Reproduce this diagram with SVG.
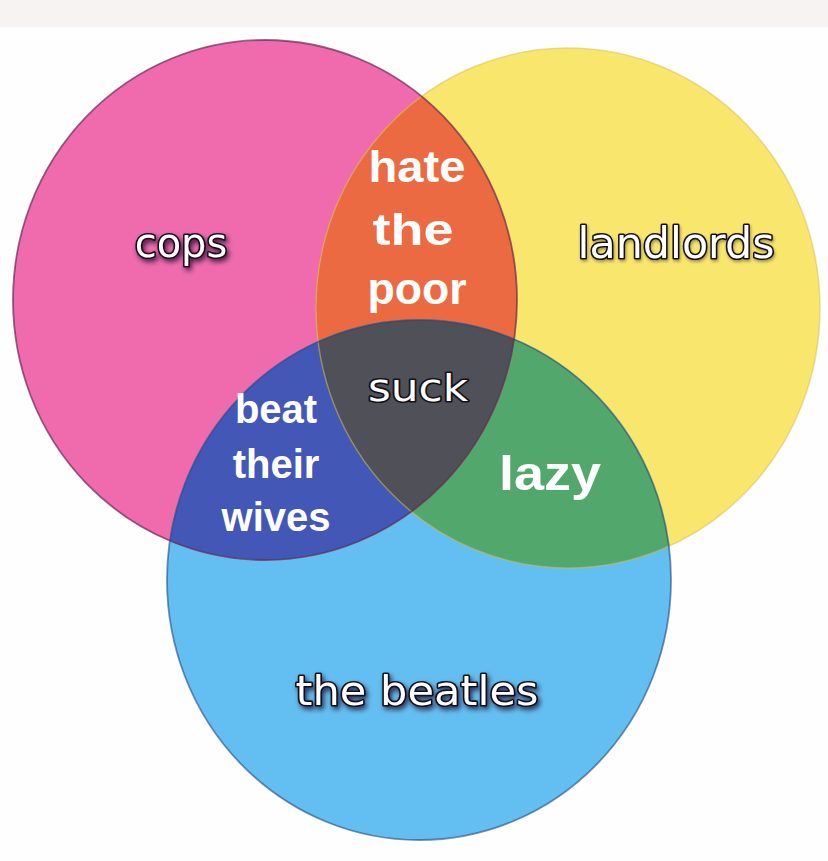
<svg xmlns="http://www.w3.org/2000/svg" width="828" height="861" viewBox="0 0 828 861">
<defs>
<style>
.comic{font-family:"DejaVu Sans","Liberation Sans",sans-serif;fill:#ffffff;stroke:#141018;stroke-width:3.2;paint-order:stroke;stroke-linejoin:round;text-anchor:middle}
.bold{font-family:"Liberation Sans",Arial,sans-serif;font-weight:bold;fill:#ffffff;text-anchor:middle}
</style>
<clipPath id="cY"><ellipse cx="568" cy="308" rx="252" ry="260"/></clipPath>
<clipPath id="cB"><ellipse cx="419" cy="580" rx="252" ry="260"/></clipPath>
<filter id="sh" x="-20%" y="-50%" width="140%" height="200%">
<feGaussianBlur in="SourceAlpha" stdDeviation="2.5"/>
<feOffset dx="2" dy="3" result="b"/>
<feFlood flood-color="#1a0a24" flood-opacity="0.75"/>
<feComposite in2="b" operator="in"/>
<feMerge><feMergeNode/><feMergeNode in="SourceGraphic"/></feMerge>
</filter>
<filter id="soft" x="-20%" y="-50%" width="140%" height="200%">
<feGaussianBlur in="SourceAlpha" stdDeviation="1.5"/>
<feOffset dx="1" dy="1.5" result="b"/>
<feFlood flood-color="#000000" flood-opacity="0.35"/>
<feComposite in2="b" operator="in"/>
<feMerge><feMergeNode/><feMergeNode in="SourceGraphic"/></feMerge>
</filter>
</defs>
<rect x="0" y="0" width="828" height="861" fill="#fefefe"/>
<rect x="0" y="0" width="828" height="27" fill="#f7f3f3"/>

<g id="circles">
<ellipse id="pink-fill" cx="265" cy="300" rx="252" ry="260" fill="#ef6bae"/>
<ellipse id="yellow-fill" cx="568" cy="308" rx="252" ry="260" fill="#f9e66c"/>
<ellipse id="blue-fill" cx="419" cy="580" rx="252" ry="260" fill="#63bff1"/>
<ellipse cx="265" cy="300" rx="252" ry="260" fill="#ec6a42" clip-path="url(#cY)"/>
<ellipse cx="265" cy="300" rx="252" ry="260" fill="#4257b6" clip-path="url(#cB)"/>
<ellipse cx="568" cy="308" rx="252" ry="260" fill="#52a86c" clip-path="url(#cB)"/>
<g clip-path="url(#cY)"><ellipse cx="265" cy="300" rx="252" ry="260" fill="#505058" clip-path="url(#cB)"/></g>
<ellipse cx="568" cy="308" rx="252" ry="260" fill="none" stroke="#d8c050" stroke-opacity="0.5" stroke-width="1.5"/>
<ellipse cx="419" cy="580" rx="252" ry="260" fill="none" stroke="#1f4a80" stroke-opacity="0.6" stroke-width="1.8"/>
<ellipse cx="265" cy="300" rx="252" ry="260" fill="none" stroke="#6a2a50" stroke-opacity="0.7" stroke-width="1.8"/>
</g>

<g id="cops">
<text class="comic" x="181" y="257" font-size="40" filter="url(#sh)">cops</text>
</g>
<g id="landlords">
<text class="comic" x="676" y="258" font-size="43" textLength="197" lengthAdjust="spacingAndGlyphs" filter="url(#soft)">landlords</text>
</g>
<g id="the-beatles">
<text class="comic" x="417" y="705" font-size="41" textLength="243" lengthAdjust="spacingAndGlyphs" filter="url(#sh)">the beatles</text>
</g>
<g id="hate-the-poor">
<text class="bold" x="417" y="182" font-size="45" textLength="97" lengthAdjust="spacingAndGlyphs">hate</text>
<text class="bold" x="413" y="245" font-size="45" textLength="81" lengthAdjust="spacingAndGlyphs">the</text>
<text class="bold" x="417" y="304" font-size="45" textLength="99" lengthAdjust="spacingAndGlyphs">poor</text>
</g>
<g id="beat-their-wives">
<text class="bold" x="276" y="423" font-size="40">beat</text>
<text class="bold" x="276" y="478" font-size="40">their</text>
<text class="bold" x="276" y="531" font-size="40">wives</text>
</g>
<g id="lazy">
<text class="bold" x="550" y="490" font-size="49" fill="#eef4ef" textLength="102" lengthAdjust="spacingAndGlyphs">lazy</text>
</g>
<g id="suck">
<text class="comic" x="418" y="401" font-size="38" textLength="100" lengthAdjust="spacingAndGlyphs">suck</text>
</g>
</svg>
